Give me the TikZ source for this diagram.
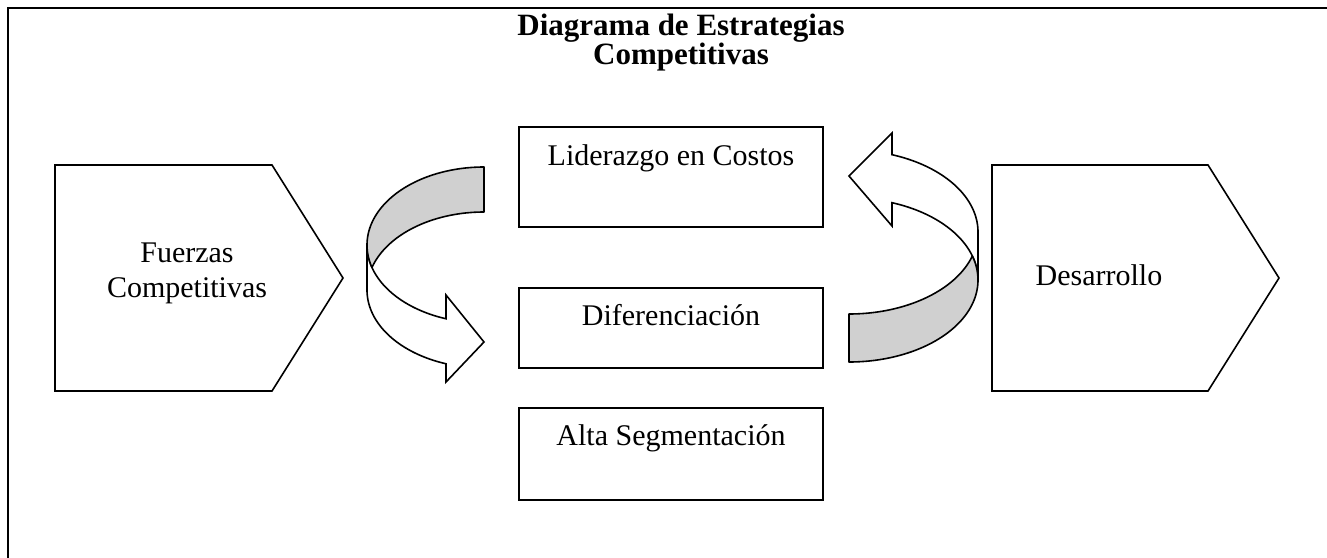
\documentclass[tikz,border=0pt]{standalone}
\usepackage{fontspec}
\setmainfont{Liberation Serif}
\definecolor{bandgray}{RGB}{208,208,208}
\begin{document}
\begin{tikzpicture}[x=1pt,y=-1pt,
  frame/.style={line width=2.5pt},
  shapeline/.style={draw=black,line width=1.6pt,line join=miter},
  boxnode/.style={draw=black,line width=1.6pt,fill=white,minimum width=304pt,inner sep=0pt,anchor=base,font=\fontsize{30}{35}\selectfont},
  lbl/.style={font=\fontsize{30}{35}\selectfont,align=center,inner sep=0pt},
  ttl/.style={font=\bfseries\fontsize{31}{29}\selectfont,align=center,inner sep=0pt},
  backband/.style={draw=black,line width=1.6pt,fill=bandgray,line join=round},
  frontband/.style={draw=black,line width=1.6pt,fill=white,line join=miter}
]
\useasboundingbox (0,0) rectangle (1327,557);
\fill[white] (0,0) rectangle (1327,557);
\draw[frame] (8,560) -- (8,8) -- (1330,8);

% title
\node[ttl] (title) at (681,42.5) {Diagrama de Estrategias\\Competitivas};

% left pentagon
\draw[shapeline] (55,165) -- (272,165) -- (343,278) -- (272,391) -- (55,391) -- cycle;
\node[lbl] (fuerzas) at (187,273) {Fuerzas\\Competitivas};

% right pentagon
\draw[shapeline] (992,165) -- (1208,165) -- (1279,278) -- (1208,391) -- (992,391) -- cycle;
\node[lbl,anchor=base] (desarrollo) at (1099,285) {Desarrollo};

% strategy boxes
\node[boxnode,text height=38pt,text depth=62pt] (lid) at (671,165) {Liderazgo en Costos};
\node[boxnode,text height=37pt,text depth=43pt] (dif) at (671,325) {Diferenciación};
\node[boxnode,text height=37pt,text depth=55pt] (alta) at (671,445) {Alta Segmentación};

% left curved arrow (pointing right, downward)
\draw[frontband] (367,245) -- (367,290)
  -- plot[domain=180:108.95,samples=50] ({484+117*cos(\x)},{290+78*sin(\x)})
  -- (446,382) -- (484,342) -- (446,295)
  -- plot[domain=108.95:180,samples=50] ({484+117*cos(\x)},{245+78*sin(\x)}) -- cycle;
\draw[backband] plot[domain=270:163.2,samples=60] ({484+117*cos(\x)},{245+78*sin(\x)})
  -- plot[domain=196.8:270,samples=50] ({484+117*cos(\x)},{290+78*sin(\x)}) -- cycle;

% right curved arrow (pointing left, upward)
\draw[frontband] (978,280) -- (978,232)
  -- plot[domain=0:-70.53,samples=50] ({849+129*cos(\x)},{232+82*sin(\x)})
  -- (892,133) -- (849,176) -- (892,226)
  -- plot[domain=-70.53:0,samples=50] ({849+129*cos(\x)},{280+82*sin(\x)}) -- cycle;
\draw[backband] plot[domain=90:-17.02,samples=60] ({849+129*cos(\x)},{280+82*sin(\x)})
  -- plot[domain=17.02:90,samples=50] ({849+129*cos(\x)},{232+82*sin(\x)}) -- cycle;
\end{tikzpicture}
\end{document}
